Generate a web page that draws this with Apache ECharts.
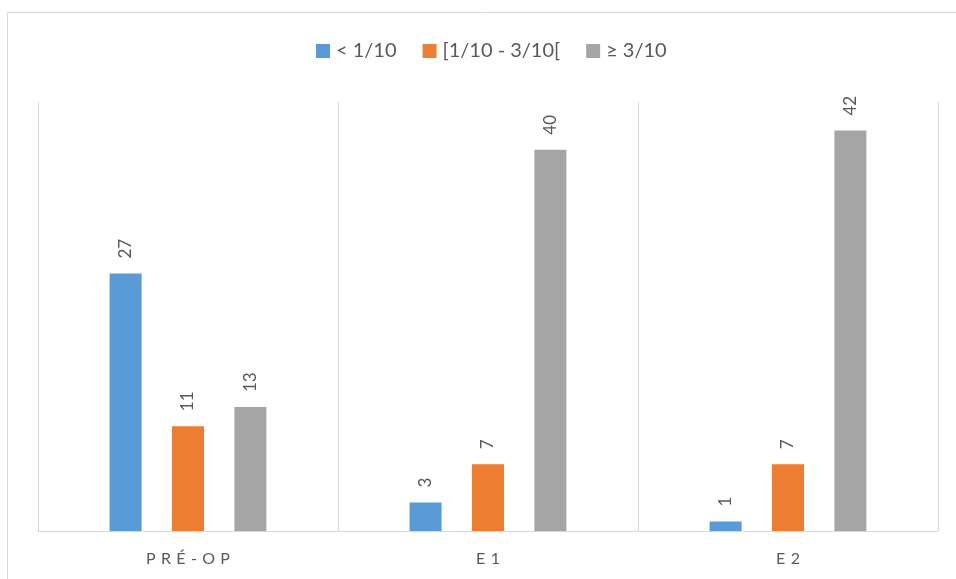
<!DOCTYPE html>
<html>
<head>
<meta charset="utf-8">
<script src="https://cdn.jsdelivr.net/npm/echarts@6/dist/echarts.min.js"></script>
<style>
  html, body { margin: 0; padding: 0; background: #ffffff; }
  #chart { width: 956px; height: 579px; }
</style>
</head>
<body>
<div id="chart"></div>
<script>
// Visual acuity groups per examination
var categories = ['PRÉ-OP', 'E1', 'E2'];
var seriesNames = ['< 1/10', '[1/10 - 3/10[', '≥ 3/10'];
var lowValues = [27, 3, 1];
var midValues = [11, 7, 7];
var highValues = [13, 40, 42];
var colors = ['#5B9BD5', '#ED7D31', '#A5A5A5'];

var FONT = 'Lato, "Open Sans", sans-serif';
var TEXT = '#595959';
var GRIDLINE = '#D9D9D9';

// spread letters of the category labels
function spaced(s) {
  return s.split('').join('\u2004');
}

function barSeries(name, data, color) {
  return {
    name: name,
    type: 'bar',
    data: data,
    barWidth: 32,
    barGap: '95%',
    itemStyle: { color: color },
    label: {
      show: true,
      position: 'top',
      rotate: 90,
      align: 'left',
      verticalAlign: 'middle',
      distance: 15,
      color: TEXT,
      fontFamily: FONT,
      fontSize: 17
    }
  };
}

var chart = echarts.init(document.getElementById('chart'), null, { renderer: 'canvas' });
chart.setOption({
  animation: false,
  backgroundColor: '#ffffff',
  graphic: [{
    type: 'rect',
    shape: { x: 7.5, y: 12.5, width: 1000, height: 1000 },
    style: { fill: 'none', stroke: GRIDLINE, lineWidth: 1 },
    silent: true
  }],
  legend: {
    top: 36,
    left: 311,
    icon: 'rect',
    itemWidth: 14,
    itemHeight: 14,
    itemGap: 26,
    textStyle: { color: TEXT, fontFamily: FONT, fontSize: 20, padding: [0, 0, 0, 1] },
    data: seriesNames
  },
  grid: { left: 38, right: 18, top: 102, bottom: 48 },
  xAxis: {
    type: 'category',
    data: categories,
    axisLine: { lineStyle: { color: GRIDLINE, width: 1 } },
    axisTick: { show: false },
    splitLine: { show: true, lineStyle: { color: GRIDLINE, width: 1 } },
    axisLabel: {
      color: TEXT,
      fontFamily: FONT,
      fontSize: 16,
      margin: 20,
      formatter: spaced
    }
  },
  yAxis: {
    type: 'value',
    min: 0,
    max: 45,
    show: false,
    splitLine: { show: false }
  },
  series: [
    barSeries(seriesNames[0], lowValues, colors[0]),
    barSeries(seriesNames[1], midValues, colors[1]),
    barSeries(seriesNames[2], highValues, colors[2])
  ]
});
</script>
</body>
</html>
